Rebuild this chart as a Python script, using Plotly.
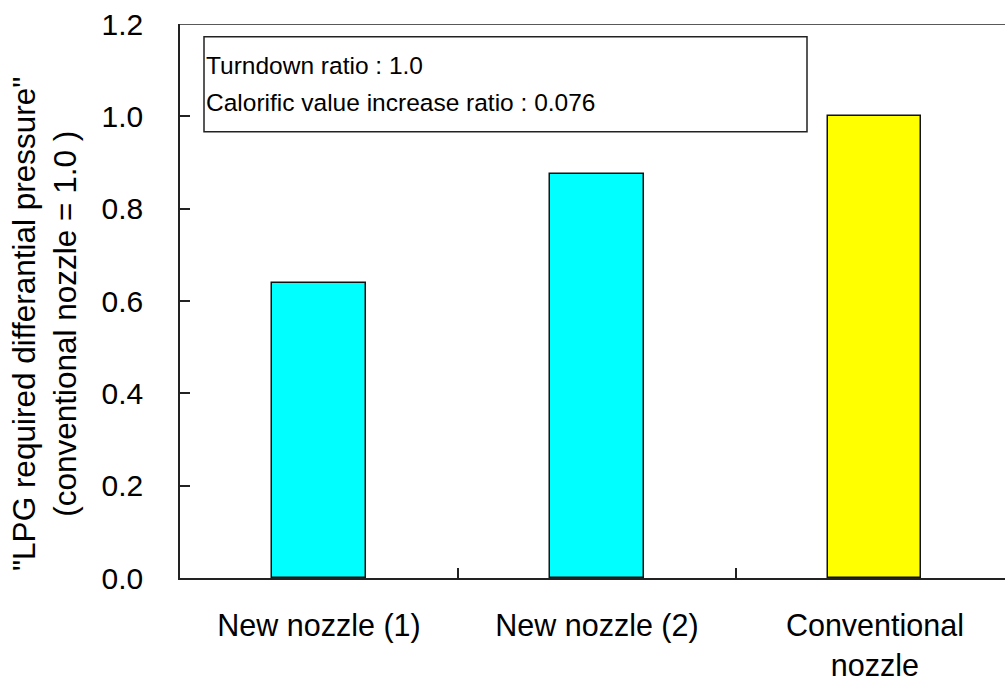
import plotly.graph_objects as go

# Nozzle comparison data
categories = ["New nozzle (1)", "New nozzle (2)", "Conventional<br>nozzle"]
pressure_ratio = [0.64, 0.875, 1.0]
bar_colors = ["#00FFFF", "#00FFFF", "#FFFF00"]
y_ticks = [0.0, 0.2, 0.4, 0.6, 0.8, 1.0, 1.2]
note_lines = ["Turndown ratio : 1.0", "Calorific value increase ratio : 0.076"]
y_title = '"LPG required differantial pressure"<br>(conventional nozzle = 1.0 )'

FONT = "Liberation Sans, Arial, sans-serif"

fig = go.Figure()
fig.add_trace(go.Bar(
    x=categories,
    y=pressure_ratio,
    width=0.335,
    marker=dict(color=bar_colors, line=dict(color="#111111", width=1.5)),
    showlegend=False,
))

fig.update_layout(
    width=1005, height=681,
    margin=dict(l=180, r=0, t=24, b=103),
    paper_bgcolor="white", plot_bgcolor="white",
    font=dict(family=FONT, size=30, color="black"),
    bargap=0,
)

fig.update_xaxes(
    type="category",
    range=[-0.5, 2.468],
    tickson="boundaries", ticks="inside", ticklen=10, tickwidth=1.5, tickcolor="#222222",
    showline=True, linecolor="#222222", linewidth=1.5,
    showgrid=False, zeroline=False,
    tickfont=dict(size=30.5),
    ticklabelstandoff=20,
)

fig.update_yaxes(
    range=[0, 1.2],
    tickmode="array", tickvals=y_ticks, ticktext=[f"{v:.1f}" for v in y_ticks],
    ticks="inside", ticklen=10, tickwidth=1.5, tickcolor="#222222",
    showline=True, linecolor="#222222", linewidth=1.5,
    showgrid=False, zeroline=False,
    tickfont=dict(size=30),
    ticklabelstandoff=29,
)

# Vertical axis title, two lines
fig.add_annotation(xref="paper", yref="y", x=(44 - 180) / 825, y=0.55,
                   xanchor="center", yanchor="middle", textangle=-90,
                   text=y_title, showarrow=False,
                   font=dict(size=31.5, family=FONT, color="black"))

# Top frame line
fig.add_shape(type="line", xref="paper", yref="y", x0=0, x1=1, y0=1.2, y1=1.2,
              line=dict(color="#222222", width=1.5))

# Condition note box
fig.add_shape(type="rect", xref="paper", yref="y",
              x0=(204 - 180) / 825, x1=(807 - 180) / 825, y0=0.9667, y1=1.1725,
              line=dict(color="#222222", width=1.5), fillcolor="white")
for text, yv in zip(note_lines, [1.110, 1.029]):
    fig.add_annotation(xref="paper", yref="y", x=(204 - 180) / 825, y=yv,
                       xanchor="left", yanchor="middle", text=text, showarrow=False,
                       font=dict(size=24.5, family=FONT, color="black"))

fig.write_html("out.html")
